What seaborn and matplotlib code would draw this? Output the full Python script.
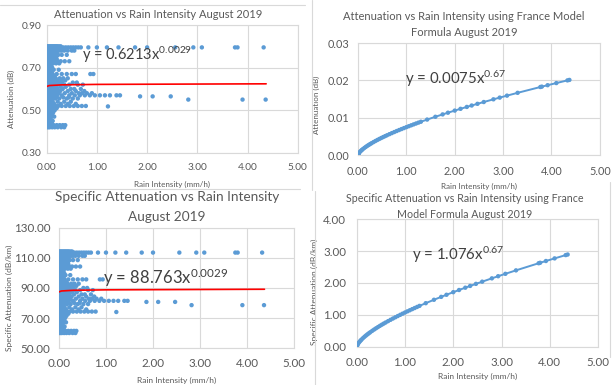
import matplotlib
matplotlib.use("Agg")
import numpy as np
import pandas as pd
import matplotlib.pyplot as plt
import seaborn as sns
from matplotlib.lines import Line2D
from matplotlib.ticker import FormatStrFormatter

sns.set_theme(style="white")
plt.rcParams["font.family"] = ["Lato", "DejaVu Sans"]
plt.rcParams["mathtext.default"] = "regular"

BLUE = "#5B9BD5"
RED = "#FF0000"
GRID = "#D9D9D9"
TICK = "#595959"
TEXT = "#404040"

# Measured link attenuation (dB), grouped by level, with the rain intensities (mm/h) logged at each level
attenuation_levels = [
    0.80, 0.795, 0.79, 0.78, 0.77, 0.76, 0.75, 0.74, 0.73, 0.72, 0.71, 0.70, 0.69, 0.68,
    0.67, 0.66, 0.65, 0.64, 0.63, 0.62, 0.61, 0.60, 0.59, 0.58, 0.57, 0.565, 0.56, 0.555,
    0.55, 0.54, 0.53, 0.52, 0.518, 0.51, 0.50, 0.49, 0.48, 0.47, 0.46, 0.45, 0.44, 0.43, 0.42,
]
rain_by_level = [
    [0.00, 0.02, 0.04, 0.06, 0.08, 0.10, 0.12, 0.14, 0.16, 0.18, 0.20, 0.22, 0.25, 0.28],
    [0.33, 0.38, 0.43, 0.48, 0.53, 0.58, 0.63, 0.68, 0.83, 1.00, 1.20, 1.43, 1.76, 2.00,
     2.56, 2.92, 3.09, 3.75, 3.80, 4.32],
    [0.01, 0.03, 0.05, 0.07, 0.09, 0.11, 0.13, 0.15, 0.17, 0.19, 0.21, 0.24, 0.27],
    [0.00, 0.02, 0.04, 0.06, 0.08, 0.10, 0.12, 0.15, 0.18, 0.22, 0.26, 0.30, 0.35, 0.42, 0.50, 0.55],
    [0.01, 0.03, 0.05, 0.07, 0.09, 0.12, 0.16, 0.20],
    [0.00, 0.02, 0.04, 0.06, 0.09, 0.13, 0.17, 0.23, 0.30, 0.40],
    [0.01, 0.03, 0.05, 0.08, 0.11, 0.15, 0.19],
    [0.01, 0.04, 0.10, 0.15, 0.20],
    [0.02, 0.05, 0.08, 0.12, 0.17, 0.22, 0.28, 0.36, 0.45],
    [0.03, 0.07, 0.13, 0.19, 0.25],
    [0.00, 0.02, 0.04, 0.06, 0.09],
    [0.01, 0.03, 0.05, 0.08, 0.11],
    [0.00, 0.02, 0.06, 0.14, 0.24],
    [0.01, 0.04, 0.07, 0.10],
    [0.00, 0.03, 0.06, 0.12, 0.20, 0.30, 0.40, 0.50, 0.58, 0.87, 0.93],
    [0.02, 0.05, 0.09, 0.16],
    [0.00, 0.03, 0.07, 0.11, 0.18, 0.26, 0.33, 0.42],
    [0.01, 0.04, 0.08, 0.13, 0.21, 0.29, 0.37],
    [0.00, 0.02, 0.05, 0.10, 0.15, 0.23, 0.31, 0.52, 0.60],
    [0.01, 0.03, 0.06, 0.09, 0.12, 0.17, 0.25, 0.35, 0.45, 0.62, 0.72],
    [0.00, 0.02, 0.04, 0.07, 0.11, 0.14, 0.19, 0.28, 0.38],
    [0.01, 0.03, 0.05, 0.08, 0.13, 0.16, 0.22, 0.32, 0.48, 0.55, 0.68],
    [0.00, 0.02, 0.06, 0.10, 0.15, 0.20, 0.27, 0.42, 0.58, 0.75],
    [0.01, 0.04, 0.07, 0.12, 0.18, 0.24, 0.36, 0.50, 0.64, 0.70, 0.80, 0.90],
    [0.00, 0.03, 0.05, 0.09, 0.14, 0.21, 0.30, 0.45, 0.56, 0.66, 0.76, 0.86, 0.96, 1.06,
     1.16, 1.26, 1.39, 1.46],
    [1.86, 2.11, 2.47],
    [0.01, 0.04, 0.08, 0.13, 0.19, 0.33, 0.44],
    [0.02, 0.06, 0.11, 0.17, 0.25, 0.40, 0.52, 0.62],
    [2.82, 3.90, 4.36],
    [0.00, 0.03, 0.07, 0.12, 0.22, 0.35, 0.48],
    [0.01, 0.05, 0.09, 0.15, 0.28, 0.42, 0.58],
    [0.00, 0.02, 0.04, 0.06, 0.10, 0.14, 0.18, 0.23, 0.30, 0.38, 0.46, 0.54, 0.62, 0.70, 0.78],
    [1.22],
    [0.01, 0.03, 0.08, 0.12, 0.20],
    [0.00, 0.02, 0.05, 0.09, 0.16],
    [0.01, 0.04, 0.07, 0.13],
    [0.00, 0.03, 0.06, 0.11],
    [0.02, 0.05, 0.09, 0.15],
    [0.01, 0.04, 0.08],
    [0.00, 0.03, 0.06, 0.12],
    [0.02, 0.05, 0.10],
    [0.01, 0.04, 0.08, 0.14, 0.20, 0.26, 0.32, 0.37],
    [0.00, 0.03, 0.06, 0.11, 0.16, 0.22, 0.29, 0.35],
]

# Link path length used to turn attenuation into specific attenuation (dB/km)
PATH_LENGTH_KM = 0.007

# Power-law trendline of the measured data: y = 0.6213 x^0.0029 (dB) and 88.763 x^0.0029 (dB/km)
trend_rain = [0.005, 0.05, 0.3, 1.0, 4.37]
trend_atten = [0.6118, 0.6159, 0.6191, 0.6213, 0.6240]
trend_specific = [87.41, 88.00, 88.45, 88.76, 89.15]

# France model predictions at the observed rain intensities
france_rain = [
    0.003, 0.005, 0.01, 0.02, 0.04, 0.06, 0.08, 0.10, 0.13, 0.16, 0.19, 0.22, 0.25, 0.28,
    0.32, 0.36, 0.40, 0.44, 0.48, 0.52, 0.56, 0.60, 0.65, 0.70, 0.75, 0.80, 0.85, 0.90,
    0.95, 1.00, 1.05, 1.10, 1.15, 1.20, 1.25, 1.30, 1.43, 1.60, 1.75, 1.86, 2.00, 2.12,
    2.25, 2.35, 2.47, 2.60, 2.80, 2.93, 3.08, 3.30, 3.77, 3.80, 3.92, 4.10, 4.33, 4.37,
]
france_atten = [
    0.000153, 0.000215, 0.000343, 0.000545, 0.000868, 0.001139, 0.001381, 0.001604,
    0.001912, 0.002197, 0.002465, 0.002720, 0.002963, 0.003196, 0.003496, 0.003782,
    0.004059, 0.004327, 0.004587, 0.004840, 0.005086, 0.005327, 0.005620, 0.005905,
    0.006185, 0.006459, 0.006726, 0.006989, 0.007247, 0.007500, 0.007749, 0.007994,
    0.008236, 0.008474, 0.008709, 0.008941, 0.009531, 0.010276, 0.010912, 0.011367,
    0.011933, 0.012408, 0.012913, 0.013294, 0.013745, 0.014226, 0.014950, 0.015412,
    0.015936, 0.016690, 0.018248, 0.018345, 0.018731, 0.019303, 0.020022, 0.020146,
]
france_specific = [
    0.0219, 0.0309, 0.0492, 0.0782, 0.1245, 0.1634, 0.1981, 0.2301, 0.2743, 0.3152,
    0.3537, 0.3902, 0.4250, 0.4586, 0.5015, 0.5427, 0.5824, 0.6207, 0.6580, 0.6943,
    0.7296, 0.7642, 0.8063, 0.8472, 0.8874, 0.9266, 0.9650, 1.0027, 1.0396, 1.0760,
    1.1118, 1.1470, 1.1816, 1.2158, 1.2495, 1.2828, 1.3674, 1.4743, 1.5655, 1.6307,
    1.7120, 1.7801, 1.8525, 1.9073, 1.9720, 2.0409, 2.1448, 2.2111, 2.2863, 2.3945,
    2.6179, 2.6319, 2.6873, 2.7693, 2.8725, 2.8903,
]

# Axis ticks for each panel
x_ticks = [0.0, 1.0, 2.0, 3.0, 4.0, 5.0]
atten_ticks = [0.30, 0.50, 0.70, 0.90]
france_atten_ticks = [0.00, 0.01, 0.02, 0.03]
specific_ticks = [50, 70, 90, 110, 130]
france_specific_ticks = [0.0, 1.0, 2.0, 3.0, 4.0]

rain_obs, atten_obs = [], []
for level, rains in zip(attenuation_levels, rain_by_level):
    rain_obs.extend(rains)
    atten_obs.extend([level] * len(rains))
measured = pd.DataFrame({"rain": rain_obs, "atten": atten_obs})
measured["specific"] = measured["atten"] / PATH_LENGTH_KM

france = pd.DataFrame({"rain": france_rain, "atten": france_atten,
                       "specific": france_specific})

W, H = 614, 385
fig = plt.figure(figsize=(W / 100, H / 100), dpi=100)
fig.patch.set_facecolor("white")


def px(x, y):
    """Pixel position (from the top-left corner) to figure fraction."""
    return x / W, 1 - y / H


def style(ax, yticks, tick_size, xpad, ypad, ylabel, lab_size, xlab_y, ylab_x, ylab_y):
    ax.set_xlim(x_ticks[0], x_ticks[-1])
    ax.set_ylim(yticks[0], yticks[-1])
    ax.set_xticks(x_ticks)
    ax.set_yticks(yticks)
    ax.xaxis.set_major_formatter(FormatStrFormatter("%.2f"))
    ax.yaxis.set_major_formatter(FormatStrFormatter("%.2f"))
    ax.grid(True, color=GRID, lw=0.8)
    ax.set_axisbelow(True)
    for s in ax.spines.values():
        s.set_visible(True)
        s.set_color(GRID)
        s.set_linewidth(0.8)
        s.set_zorder(0.5)
    ax.tick_params(length=0, labelsize=tick_size, colors=TICK)
    ax.tick_params(axis="x", pad=xpad)
    ax.tick_params(axis="y", pad=ypad)
    ax.set_xlabel("Rain Intensity (mm/h)", fontsize=lab_size, color=TICK)
    ax.set_ylabel(ylabel, fontsize=lab_size, color=TICK)
    ax.xaxis.set_label_coords(0.5, xlab_y)
    ax.yaxis.set_label_coords(ylab_x, ylab_y)


def title(lines, cx, ys, size):
    for text, y in zip(lines, ys):
        fig.text(*px(cx, y), text, ha="center", va="center", fontsize=size, color=TICK)


# Top left: measured attenuation
ax1 = fig.add_axes([0.076, 0.603, 0.409, 0.332])
sns.scatterplot(data=measured, x="rain", y="atten", ax=ax1, color=BLUE, s=10,
                edgecolor="none", linewidth=0)
sns.lineplot(x=trend_rain, y=trend_atten, ax=ax1, color=RED, lw=1.2)
style(ax1, atten_ticks, 7.3, 7, 3.5, "Attenuation (dB)", 5.8, -0.22, -0.125, 0.42)
ax1.text(0.70, 0.762, r"y = 0.6213x$^{0.0029}$", fontsize=10.5, color=TEXT, va="center")
title(["Attenuation vs Rain Intensity August 2019"], 158, [15], 8.0)

# Top right: France model attenuation
ax2 = fig.add_axes([0.583, 0.597, 0.394, 0.291])
sns.lineplot(data=france, x="rain", y="atten", ax=ax2, color=BLUE, lw=1.4, sort=True)
sns.scatterplot(data=france, x="rain", y="atten", ax=ax2, color=BLUE, s=10,
                edgecolor="none", linewidth=0)
style(ax2, france_atten_ticks, 7.8, 7.5, 6.5, "Attenuation (dB)", 5.8, -0.25, -0.155, 0.45)
ax2.text(0.97, 0.0205, r"y = 0.0075x$^{0.67}$", fontsize=10.8, color=TEXT, va="center")
title(["Attenuation vs Rain Intensity using France Model", "Formula August 2019"],
      464, [17, 32], 8.0)

# Bottom left: measured specific attenuation
ax3 = fig.add_axes([0.096, 0.096, 0.383, 0.312])
sns.scatterplot(data=measured, x="rain", y="specific", ax=ax3, color=BLUE, s=10,
                edgecolor="none", linewidth=0)
sns.lineplot(x=trend_rain, y=trend_specific, ax=ax3, color=RED, lw=1.2)
style(ax3, specific_ticks, 8.4, 7.5, 6, "Specific Attenuation (dB/km)", 6.0,
      -0.24, -0.195, 0.42)
ax3.text(0.94, 97.0, r"y = 88.763x$^{0.0029}$", fontsize=12, color=TEXT, va="center")
title(["Specific Attenuation vs Rain Intensity", "August 2019"], 167, [197, 217], 9.8)

# Bottom right: France model specific attenuation
ax4 = fig.add_axes([0.581, 0.099, 0.393, 0.332])
sns.lineplot(data=france, x="rain", y="specific", ax=ax4, color=BLUE, lw=1.4, sort=True)
sns.scatterplot(data=france, x="rain", y="specific", ax=ax4, color=BLUE, s=10,
                edgecolor="none", linewidth=0)
style(ax4, france_specific_ticks, 8.3, 7, 7.5, "Specific Attenuation (dB/km)", 6.0,
      -0.20, -0.16, 0.43)
ax4.text(1.14, 2.88, r"y = 1.076x$^{0.67}$", fontsize=10.8, color=TEXT, va="center")
title(["Specific Attenuation vs Rain Intensity using France",
       "Model Formula August 2019"], 465, [199, 214], 7.7)

# Thin chart-frame separators
frame = dict(color=GRID, lw=0.8, transform=fig.transFigure)
fig.add_artist(Line2D(*zip(px(0, 5), px(305, 5)), **frame))
fig.add_artist(Line2D(*zip(px(312, 0), px(312, 190)), **frame))
fig.add_artist(Line2D(*zip(px(315, 191), px(315, 385)), **frame))
fig.add_artist(Line2D(*zip(px(5, 189), px(300, 189)), **frame))
fig.add_artist(Line2D(*zip(px(610, 182), px(610, 357)), **frame))

fig.savefig("out.png", dpi=100, facecolor="white")
